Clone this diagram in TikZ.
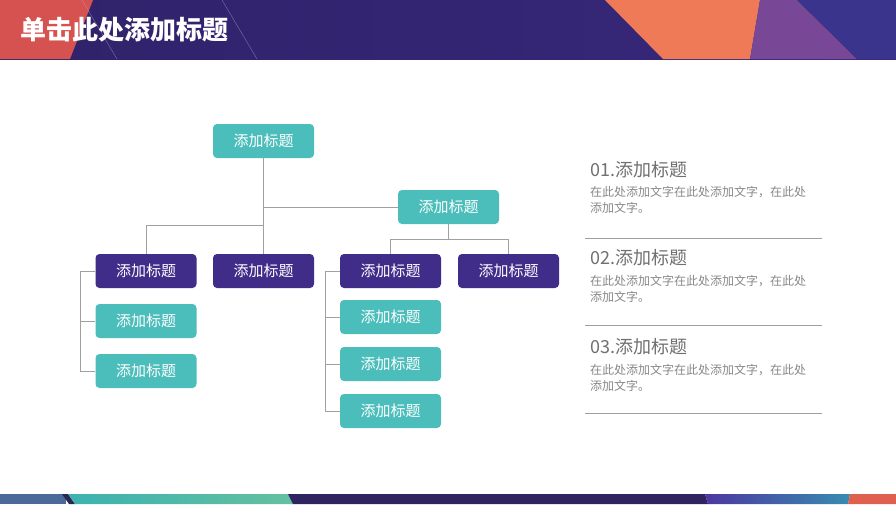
\documentclass[tikz,border=0pt]{standalone}
\usepackage{fontspec}
\setmainfont{Noto Sans CJK SC}
\usetikzlibrary{positioning}
\definecolor{teal1}{RGB}{75,190,188}
\definecolor{purp1}{RGB}{64,45,138}
\definecolor{linegray}{RGB}{160,160,160}
\definecolor{txtgray}{RGB}{112,112,112}
\definecolor{bodygray}{RGB}{136,136,136}
\definecolor{hdrpurple}{RGB}{56,40,124}
\definecolor{hdrred}{RGB}{214,82,80}
\definecolor{hdrorange}{RGB}{238,122,88}
\definecolor{hdrviolet}{RGB}{120,72,150}
\definecolor{hdrblue}{RGB}{58,52,140}
\definecolor{footblue}{RGB}{74,106,154}
\definecolor{footdark}{RGB}{40,40,80}
\definecolor{footteal}{RGB}{60,178,176}
\definecolor{footgreen}{RGB}{100,192,160}
\definecolor{footpurple}{RGB}{47,36,96}
\definecolor{footviolet}{RGB}{76,56,160}
\definecolor{footcyan}{RGB}{56,140,176}
\definecolor{footred}{RGB}{224,96,80}
\tikzset{
  tbox/.style={rectangle, rounded corners=4pt, minimum width=101pt, minimum height=34pt, inner sep=0pt, text=white, font=\fontsize{15}{17}\selectfont},
  tealbox/.style={tbox, fill=teal1},
  purpbox/.style={tbox, fill=purp1},
  conn/.style={draw=linegray, line width=0.9pt},
  sep/.style={draw=linegray, line width=0.9pt},
  htitle/.style={anchor=west, text=txtgray, font=\fontsize{18}{20}\selectfont, inner sep=0pt},
  hbody/.style={anchor=north west, text=bodygray, font=\fontsize{12}{16}\selectfont, inner sep=0pt, align=left}
}
\begin{document}
\begin{tikzpicture}[x=1pt,y=-1pt]
\useasboundingbox (0,0) rectangle (896,504);
\fill[white] (0,0) rectangle (896,504);
% header
\shade[left color=hdrpurple!85!black, right color=hdrpurple] (0,0) rectangle (896,59);
\fill[hdrred] (0,0) -- (93,0) -- (70,59) -- (0,59) -- cycle;
\draw[white!60!hdrpurple, line width=0.4pt, opacity=0.6] (82,0) -- (117,59);
\draw[white!60!hdrpurple, line width=0.4pt, opacity=0.6] (222,0) -- (257,59);
\fill[hdrorange] (605,0) -- (760,0) -- (750,59) -- (663,59) -- cycle;
\fill[hdrviolet] (760,0) -- (797,0) -- (857,59) -- (750,59) -- cycle;
\fill[hdrblue] (797,0) -- (896,0) -- (896,59) -- (857,59) -- cycle;
\node[anchor=west, text=white, font=\fontsize{26}{28}\selectfont\bfseries, inner sep=0pt] (title) at (20,30) {单击此处添加标题};
% footer band
\fill[footblue] (0,494) rectangle (66,504);
\fill[footdark] (62,494) -- (68,494) -- (75,504) -- (69,504) -- cycle;
\shade[left color=footteal, right color=footgreen] (68,494) -- (288,494) -- (293,504) -- (75,504) -- cycle;
\fill[footpurple] (288,494) -- (705,494) -- (708,504) -- (293,504) -- cycle;
\shade[left color=footviolet, right color=footcyan] (705,494) -- (850,494) -- (848,504) -- (708,504) -- cycle;
\fill[footred] (850,494) -- (896,494) -- (896,504) -- (848,504) -- cycle;
% nodes
\node[tealbox] (top) at (263.5,141) {添加标题};
\node[tealbox] (sec) at (448.5,207) {添加标题};
\node[purpbox] (p1) at (146,271) {添加标题};
\node[purpbox] (p2) at (263.5,271) {添加标题};
\node[purpbox] (p3) at (390.5,271) {添加标题};
\node[purpbox] (p4) at (508.5,271) {添加标题};
\node[tealbox] (l1) at (146,321) {添加标题};
\node[tealbox] (l2) at (146,371) {添加标题};
\node[tealbox] (r1) at (390.5,317) {添加标题};
\node[tealbox] (r2) at (390.5,364) {添加标题};
\node[tealbox] (r3) at (390.5,411) {添加标题};
% connectors
\coordinate (j1) at (263.5,207);
\coordinate (j2) at (263.5,225);
\draw[conn] (top.south) -- (p2.north);
\draw[conn] (j1) -- (sec.west);
\draw[conn] (j2) -| (p1.north);
\coordinate (j3) at (448.5,239);
\draw[conn] (sec.south) -- (j3);
\draw[conn] (j3) -| (p3.north);
\draw[conn] (j3) -| (p4.north);
\coordinate (lc) at (80,271);
\draw[conn] (p1.west) -- (lc) |- (l2.west);
\draw[conn] (lc |- l1.west) -- (l1.west);
\coordinate (rc) at (325,271);
\draw[conn] (p3.west) -- (rc) |- (r3.west);
\draw[conn] (rc |- r1.west) -- (r1.west);
\draw[conn] (rc |- r2.west) -- (r2.west);
% right text
\node[htitle] (t1) at (590,170) {01.添加标题};
\node[hbody] (b1) at (590,186) {在此处添加文字在此处添加文字，在此处\\添加文字。};
\coordinate (s1a) at (585,238); \coordinate (s1b) at (822,238);
\draw[sep] (s1a) -- (s1b);
\node[htitle] (t2) at (590,258) {02.添加标题};
\node[hbody] (b2) at (590,275) {在此处添加文字在此处添加文字，在此处\\添加文字。};
\coordinate (s2a) at (585,325); \coordinate (s2b) at (822,325);
\draw[sep] (s2a) -- (s2b);
\node[htitle] (t3) at (590,347) {03.添加标题};
\node[hbody] (b3) at (590,364) {在此处添加文字在此处添加文字，在此处\\添加文字。};
\coordinate (s3a) at (585,413); \coordinate (s3b) at (822,413);
\draw[sep] (s3a) -- (s3b);
\end{tikzpicture}
\end{document}
